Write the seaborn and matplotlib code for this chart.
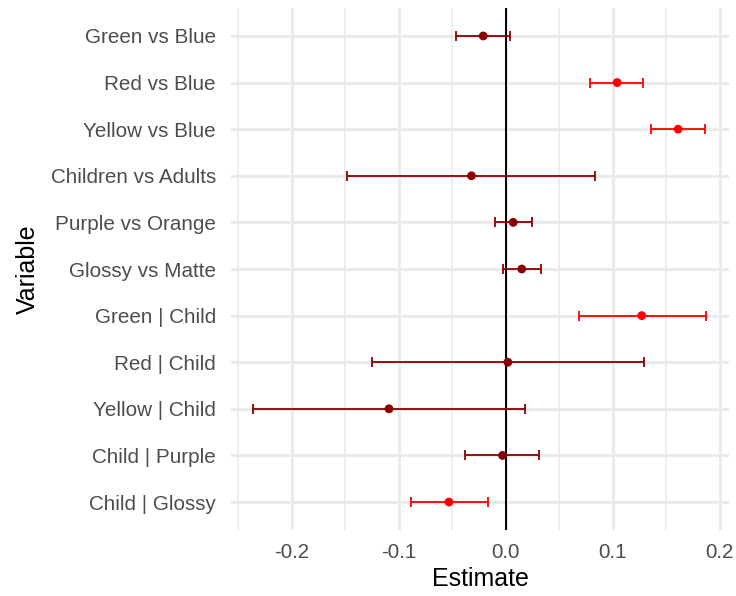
import numpy as np
import pandas as pd
import matplotlib
import matplotlib.pyplot as plt
import seaborn as sns
from matplotlib.ticker import MultipleLocator

matplotlib.use("Agg")

variables = [
    "Green vs Blue", "Red vs Blue", "Yellow vs Blue", "Children vs Adults",
    "Purple vs Orange", "Glossy vs Matte", "Green | Child", "Red | Child",
    "Yellow | Child", "Child | Purple", "Child | Glossy",
]
estimates = [-0.021, 0.104, 0.161, -0.032, 0.007, 0.015, 0.127, 0.002, -0.109, -0.003, -0.053]
ci_low = [-0.046, 0.079, 0.136, -0.148, -0.010, -0.003, 0.068, -0.125, -0.236, -0.038, -0.088]
ci_high = [0.004, 0.128, 0.186, 0.083, 0.025, 0.033, 0.187, 0.129, 0.018, 0.031, -0.017]

df = pd.DataFrame({
    "Variable": variables,
    "Estimate": estimates,
    "lo": ci_low,
    "hi": ci_high,
})
df["sig"] = np.where((df["lo"] > 0) | (df["hi"] < 0), "sig", "ns")
palette = {"sig": "#FF0000", "ns": "#8B0000"}

sns.set_style("white")
plt.rcParams["font.family"] = ["Liberation Sans", "DejaVu Sans"]

fig = plt.figure(figsize=(7.36, 5.96), dpi=100)
ax = fig.add_axes([0.3139, 0.1107, 0.6766, 0.8759])

# points first so the category order on y follows the table
sns.scatterplot(
    data=df, x="Estimate", y="Variable", hue="sig", palette=palette,
    s=40, edgecolor="none", legend=False, ax=ax, zorder=4,
)

for key, grp in df.groupby("sig"):
    ax.errorbar(
        x=grp["Estimate"], y=grp["Variable"],
        xerr=[grp["Estimate"] - grp["lo"], grp["hi"] - grp["Estimate"]],
        fmt="none", ecolor=palette[key], elinewidth=1.3,
        capsize=3.5, capthick=1.3, zorder=3,
    )

ax.axvline(0, color="black", lw=1.4, zorder=2)

ax.set_xlim(-0.2565, 0.2085)
ax.set_ylim(len(variables) - 0.4, -0.6)
ax.xaxis.set_minor_locator(MultipleLocator(0.05))
ax.set_xticks(np.arange(-0.2, 0.21, 0.1))
ax.set_xticklabels(["-0.2", "-0.1", "0.0", "0.1", "0.2"])

ax.grid(which="major", color="#EBEBEB", lw=2.2, zorder=0)
ax.grid(which="minor", axis="x", color="#EBEBEB", lw=1.2, zorder=0)
ax.set_axisbelow(True)
for s in ax.spines.values():
    s.set_visible(False)

ax.tick_params(axis="both", which="both", length=0, labelsize=14.9, colors="#4D4D4D")
ax.tick_params(axis="y", pad=11)
ax.tick_params(axis="x", pad=9)
ax.set_xlabel("Estimate", fontsize=18, color="black", labelpad=4)
ax.set_ylabel("Variable", fontsize=18, color="black", labelpad=8)

plt.savefig("out.png", dpi=100)
plt.close()
